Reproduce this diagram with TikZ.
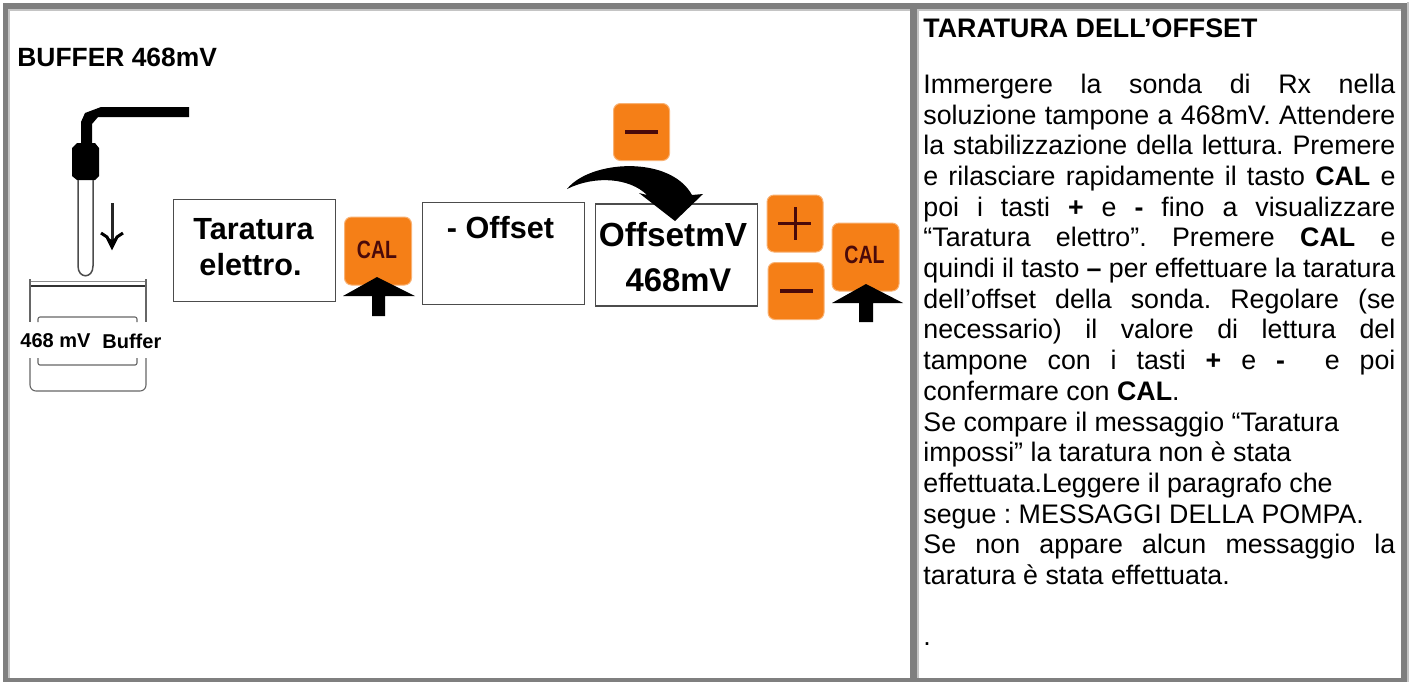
\documentclass[tikz,border=0pt]{standalone}
\usepackage{fontspec}
\setmainfont{Liberation Sans}
\definecolor{keyor}{HTML}{F57F17}
\definecolor{keytx}{HTML}{4A0A0A}
\definecolor{frameg}{HTML}{7F7F7F}
\definecolor{frameh}{HTML}{C4C4C4}
\newcommand{\caltext}{\scalebox{0.78}[1]{\bfseries\fontsize{12.5}{13}\selectfont CAL}}
\tikzset{x=0.5pt,y=-0.5pt,
  lcdbox/.style={draw=black!70,line width=0.6pt,fill=white,inner sep=0pt,minimum width=81pt,minimum height=51pt},
  keybtn/.style={fill=keyor,draw=keyor!60!white,line width=0.5pt,rounded corners=3.5pt,inner sep=0pt,minimum width=28pt,minimum height=28.5pt,text=keytx},
  calkey/.style={keybtn,minimum width=33.5pt,minimum height=34pt},
  keymark/.style={keytx,line width=1.8pt},
  lcdtext/.style={font=\bfseries\fontsize{15.3}{18}\selectfont,inner sep=0pt,anchor=base},
  frameband/.style={fill=frameg,draw=none},
  frameedge/.style={fill=frameh,draw=none},
  bodytext/.style={font=\fontsize{13.4}{15.35}\selectfont,inner sep=0pt,anchor=north west},
  glass/.style={draw=black!60,line width=0.55pt},
  bufflabel/.style={font=\bfseries\fontsize{10}{11}\selectfont,inner sep=0pt,anchor=base west},
  bigarrow/.style={fill=black,draw=none}
}
\begin{document}
\begin{tikzpicture}
\useasboundingbox (0,0) rectangle (1412,682);
\fill[white] (0,0) rectangle (1412,682);
% frame
\fill[frameband] (3,3) rectangle (1407,9);
\fill[frameband] (3,678) rectangle (1407,682);
\fill[frameband] (3,3) rectangle (8,682);
\fill[frameband] (910,3) rectangle (917,682);
\fill[frameband] (1401,3) rectangle (1407,682);
\fill[frameedge] (8,9) rectangle (910,11);
\fill[frameedge] (917,9) rectangle (1401,11);
\fill[frameedge] (8,9) rectangle (9.5,678);
\fill[frameedge] (917,9) rectangle (919,678);
\fill[frameedge] (1407,2) rectangle (1409,682);
% left heading
\node[font=\bfseries\fontsize{13.2}{15}\selectfont,inner sep=0pt,anchor=base west] (title) at (17,66.5) {BUFFER 468mV};
% probe
\fill[black] (189,107) -- (101,107) -- (85,113) -- (81,122) -- (81,145) -- (92,145) -- (92,124) -- (98,117) -- (189,117) -- cycle;
\fill[black] (77,143) -- (95,143) -- (99,148) -- (99,176) -- (95,180) -- (77,180) -- (72,176) -- (72,148) -- cycle;
\draw[black!70,line width=0.75pt] (78,180) -- (78,266) .. controls (78,279) and (93,279) .. (93,266) -- (93,180);
\draw[black!85,line width=1.5pt] (112,203) -- (112,246);
\draw[line width=1.5pt] (101,233) -- (107,237) -- (112,247) -- (117,237) -- (123,233);
\fill[black] (107,237) -- (112,248) -- (117,237) -- (112,240) -- cycle;
% beaker
\draw[black!45,line width=0.5pt] (30,281) -- (146,281);
\draw[black!80,line width=0.9pt] (30,286) -- (146,286);
\draw[glass] (30,279) -- (30,322);
\draw[glass] (146,279) -- (146,322);
\draw[glass,rounded corners=3pt] (30,358) -- (30,391) -- (146,391) -- (146,358);
\draw[glass,rounded corners=1pt] (38,322) -- (38,317) -- (137,317) -- (137,322);
\draw[glass,rounded corners=1pt] (38,358) -- (38,365) -- (137,365) -- (137,358);
\node[bufflabel] (bufa) at (20,347) {468 mV};
\node[bufflabel] (bufb) at (102,348) {Buffer};
% LCD boxes
\node[lcdbox] (b1) at (254.5,250.5) {};
\node[lcdtext] (t1a) at (253.5,239) {Taratura};
\node[lcdtext] (t1b) at (250.5,275) {elettro.};
\node[lcdbox] (b2) at (503.5,253.5) {};
\node[lcdtext] (t2) at (500.5,238) {- Offset};
\node[lcdbox] (b3) at (676.5,255) {};
\node[lcdtext,font=\bfseries\fontsize{16.7}{20}\selectfont] (t3a) at (673,246) {OffsetmV};
\node[lcdtext,font=\bfseries\fontsize{16.4}{20}\selectfont] (t3b) at (678.5,291) {468mV};
% keys
\node[calkey] (cal1) at (378,251) {};
\node[inner sep=0pt,anchor=base,text=keytx] (cal1t) at (377,258) {\caltext};
\fill[bigarrow] (377,277) -- (415,296) -- (385,296) -- (385,316) -- (372,316) -- (372,296) -- (343,296) -- cycle;
\node[keybtn] (minus1) at (641.5,132) {};
\node[keybtn] (plus) at (795,223.5) {};
\node[keybtn] (minus2) at (796,291) {};
\node[calkey] (cal2) at (865.5,257) {};
\node[inner sep=0pt,anchor=base,text=keytx] (cal2t) at (864.5,263) {\caltext};
\fill[bigarrow] (866,284) -- (903,303) -- (873,303) -- (873,322) -- (859,322) -- (859,303) -- (832,303) -- cycle;
\draw[keymark] (625,132) -- (658,132);
\draw[keymark,line width=1.5pt] (778,223) -- (811,223);
\draw[keymark,line width=1.5pt] (795,207) -- (795,240);
\draw[keymark] (780,291) -- (813,291);
% curved arrow
\fill[bigarrow] (567,189) .. controls (590,160) and (670,155) .. (692,195) -- (703,194) -- (675,221) -- (639,193) -- (647,195) .. controls (630,178) and (595,175) .. (567,189) -- cycle;
% right text
\node[bodytext,text width=236pt,align=justify] (txt) at (923,18.5) {\frenchspacing\setlength{\emergencystretch}{20pt}\hbadness=10000 \hfuzz=20pt
{\bfseries TARATURA DELL’OFFSET}\par
\vspace{12.5pt}
Immergere la sonda di Rx nella\linebreak
soluzione tampone a 468mV. Attendere\linebreak
la stabilizzazione della lettura. Premere\linebreak
e rilasciare rapidamente il tasto {\bfseries CAL} e\linebreak
poi i tasti {\bfseries +} e {\bfseries -} fino a visualizzare\linebreak
“Taratura elettro”. Premere {\bfseries CAL} e\linebreak
quindi il tasto {\bfseries –} per effettuare la taratura\linebreak
dell’offset della sonda. Regolare (se\linebreak
necessario) il valore di lettura del\linebreak
tampone con i tasti {\bfseries +} e {\bfseries -}\ \ e poi\linebreak
confermare con {\bfseries CAL}.\par
Se compare il messaggio “Taratura\par
impossi” la taratura non è stata\par
effettuata.Leggere il paragrafo che\par
segue : MESSAGGI DELLA POMPA.\par
Se non appare alcun messaggio la\linebreak
taratura è stata effettuata.\par
\vspace{15.35pt}
.\par};
\end{tikzpicture}
\end{document}
